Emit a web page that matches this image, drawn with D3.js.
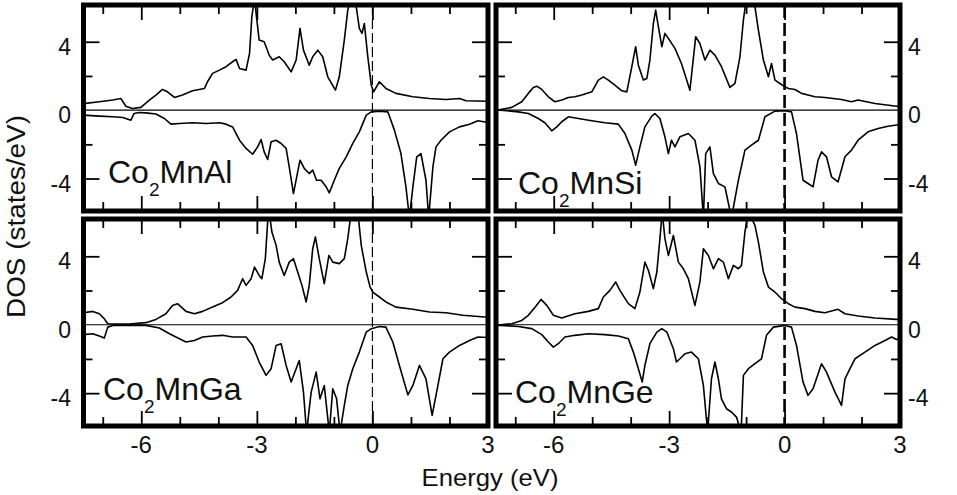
<!DOCTYPE html>
<html><head><meta charset="utf-8">
<script src="https://cdn.jsdelivr.net/npm/d3@7"></script>
<style>body{margin:0;background:#fff}svg{display:block}</style>
</head><body><svg id="c" width="957" height="495"></svg>
<script>
// ---- data: [energy (eV), DOS (states/eV)] ----
const alUp=[[-7.5,0.38],[-7.09,0.49],[-6.74,0.59],[-6.53,0.68],[-6.40,0.23],[-6.23,0.10],[-6.01,0.16],[-5.79,0.59],[-5.62,0.88],[-5.45,1.21],[-5.32,1.07],[-5.14,0.74],[-4.93,0.88],[-4.67,1.13],[-4.36,1.27],[-4.28,1.66],[-4.15,2.15],[-3.97,2.34],[-3.80,2.54],[-3.63,2.83],[-3.54,2.97],[-3.45,2.44],[-3.28,2.34],[-3.19,3.32],[-3.13,5.46],[-3.06,6.6],[-3.02,5.66],[-2.94,4.10],[-2.81,4.00],[-2.68,3.22],[-2.59,2.93],[-2.42,3.12],[-2.29,2.83],[-2.11,2.24],[-1.98,2.93],[-1.88,4.78],[-1.79,3.51],[-1.64,2.63],[-1.55,3.12],[-1.42,3.51],[-1.29,3.12],[-1.16,1.95],[-0.96,1.17],[-0.86,1.95],[-0.73,4.10],[-0.64,5.85],[-0.55,6.6],[-0.42,6.05],[-0.34,4.78],[-0.27,4.49],[-0.21,5.07],[-0.12,3.12],[-0.03,1.46],[0.03,1.07],[0.18,1.66],[0.35,1.27],[0.61,0.98],[1.05,0.78],[1.48,0.68],[1.91,0.62],[2.26,0.68],[2.43,0.55],[3.0,0.52]];
const alDn=[[-7.5,-0.29],[-7.09,-0.35],[-6.74,-0.39],[-6.48,-0.43],[-6.27,-0.59],[-6.19,-0.20],[-6.05,-0.14],[-5.88,-0.16],[-5.62,-0.23],[-5.40,-0.49],[-5.23,-0.82],[-5.01,-0.78],[-4.67,-0.74],[-4.32,-0.78],[-3.97,-0.74],[-3.80,-0.82],[-3.63,-0.98],[-3.45,-1.76],[-3.28,-2.24],[-3.11,-2.58],[-2.98,-2.15],[-2.89,-1.72],[-2.81,-2.44],[-2.72,-2.89],[-2.63,-1.85],[-2.50,-1.76],[-2.37,-1.95],[-2.24,-2.24],[-2.16,-3.32],[-2.05,-4.88],[-1.94,-3.61],[-1.88,-2.93],[-1.77,-3.41],[-1.64,-3.71],[-1.55,-3.51],[-1.45,-4.10],[-1.33,-4.10],[-1.20,-4.49],[-1.12,-4.84],[-0.99,-4.10],[-0.86,-3.41],[-0.68,-2.73],[-0.51,-1.95],[-0.34,-1.27],[-0.16,-0.29],[-0.03,-0.10],[0.18,-0.06],[0.40,-0.10],[0.57,-1.17],[0.74,-2.54],[0.87,-4.49],[0.96,-6.3],[1.05,-4.49],[1.15,-2.73],[1.26,-2.54],[1.39,-4.10],[1.46,-6.3],[1.57,-3.32],[1.65,-2.15],[1.78,-1.76],[2.00,-1.27],[2.26,-0.98],[2.52,-0.82],[2.74,-0.62],[3.0,-0.72]];
const siUp=[[-7.5,0.02],[-7.39,0.04],[-7.09,0.16],[-6.83,0.49],[-6.66,0.98],[-6.53,1.33],[-6.44,1.40],[-6.31,1.21],[-6.14,0.78],[-5.97,0.49],[-5.79,0.59],[-5.62,0.74],[-5.45,0.78],[-5.27,0.88],[-5.01,1.07],[-4.84,1.76],[-4.71,1.95],[-4.58,1.76],[-4.41,1.46],[-4.23,1.13],[-4.10,1.07],[-3.97,2.54],[-3.87,3.71],[-3.80,2.63],[-3.67,1.76],[-3.58,1.85],[-3.50,2.93],[-3.41,5.07],[-3.35,5.85],[-3.28,4.88],[-3.19,3.71],[-3.11,4.49],[-3.02,4.20],[-2.85,3.61],[-2.68,2.73],[-2.46,1.17],[-2.31,4.29],[-2.20,3.90],[-2.07,2.93],[-1.94,3.51],[-1.81,3.22],[-1.64,2.54],[-1.42,1.33],[-1.29,1.56],[-1.16,3.12],[-1.07,5.27],[-0.99,6.6],[-0.77,6.05],[-0.68,4.68],[-0.55,2.93],[-0.42,1.95],[-0.34,2.73],[-0.25,1.76],[-0.12,1.56],[0.01,1.37],[0.10,1.27],[0.27,1.21],[0.44,0.98],[0.61,0.88],[0.79,0.78],[1.05,0.74],[1.48,0.62],[1.74,0.49],[1.91,0.59],[2.35,0.39],[2.91,0.23],[3.0,0.22]];
const siDn=[[-7.5,0],[-7.39,0],[-6.92,-0.10],[-6.66,-0.20],[-6.40,-0.49],[-6.23,-0.74],[-6.05,-1.21],[-5.92,-0.98],[-5.79,-0.68],[-5.62,-0.39],[-5.36,-0.49],[-5.01,-0.62],[-4.67,-0.74],[-4.32,-0.82],[-4.15,-1.37],[-3.97,-2.34],[-3.87,-3.22],[-3.76,-2.15],[-3.63,-0.98],[-3.45,-0.35],[-3.37,-0.20],[-3.24,-0.49],[-3.11,-1.56],[-3.02,-2.54],[-2.94,-1.76],[-2.85,-2.15],[-2.72,-1.56],[-2.50,-1.37],[-2.33,-1.76],[-2.20,-3.32],[-2.11,-6.3],[-2.05,-2.54],[-1.94,-2.15],[-1.85,-3.71],[-1.72,-4.29],[-1.55,-4.49],[-1.38,-6.3],[-1.20,-4.10],[-1.03,-2.34],[-0.86,-2.05],[-0.68,-1.76],[-0.51,-0.39],[-0.25,-0.06],[0.01,-0.04],[0.18,-0.10],[0.31,-1.37],[0.48,-4.10],[0.61,-4.29],[0.74,-4.49],[0.87,-2.93],[0.96,-2.44],[1.09,-2.73],[1.22,-3.90],[1.39,-4.20],[1.57,-2.73],[1.74,-2.34],[1.91,-1.76],[2.17,-1.27],[2.43,-1.07],[2.69,-0.94],[3.0,-0.84]];
const gaUp=[[-7.5,0.70],[-7.26,0.78],[-7.09,0.64],[-6.96,0.35],[-6.87,0.06],[-6.74,0.04],[-6.31,0.04],[-5.88,0.12],[-5.62,0.31],[-5.36,0.64],[-5.19,1.13],[-5.06,1.23],[-4.84,0.78],[-4.62,0.64],[-4.41,0.78],[-4.15,1.03],[-3.89,1.29],[-3.67,1.62],[-3.50,2.01],[-3.37,2.69],[-3.28,2.30],[-3.15,2.69],[-3.06,3.37],[-2.94,2.88],[-2.87,2.69],[-2.78,3.86],[-2.72,6.0],[-2.68,6.6],[-2.61,5.42],[-2.50,4.64],[-2.42,3.66],[-2.29,2.88],[-2.16,3.66],[-2.05,3.86],[-1.94,3.08],[-1.83,2.30],[-1.72,1.33],[-1.64,2.30],[-1.55,4.44],[-1.48,5.13],[-1.38,3.86],[-1.25,2.40],[-1.13,4.05],[-1.03,3.66],[-0.86,3.57],[-0.73,3.86],[-0.64,5.03],[-0.55,6.6],[-0.38,6.6],[-0.29,4.64],[-0.16,3.08],[-0.06,2.20],[0.01,1.91],[0.18,1.62],[0.35,1.33],[0.61,1.03],[1.05,0.90],[1.48,0.74],[1.91,0.70],[2.35,0.55],[2.91,0.45],[3.0,0.45]];
const gaDn=[[-7.5,-0.58],[-7.26,-0.53],[-7.09,-0.66],[-6.96,-0.78],[-6.87,-0.14],[-6.74,-0.04],[-5.88,-0.04],[-5.53,-0.19],[-5.27,-0.53],[-5.01,-0.82],[-4.84,-1.01],[-4.62,-0.92],[-4.41,-0.72],[-4.15,-0.66],[-3.89,-0.62],[-3.63,-0.72],[-3.28,-0.72],[-3.11,-1.21],[-2.94,-2.18],[-2.76,-2.96],[-2.63,-2.57],[-2.50,-1.21],[-2.37,-1.11],[-2.24,-2.38],[-2.11,-3.35],[-1.98,-2.57],[-1.90,-2.09],[-1.79,-3.94],[-1.71,-6.3],[-1.59,-3.94],[-1.46,-2.77],[-1.36,-4.33],[-1.25,-3.55],[-1.12,-6.3],[-1.03,-3.74],[-0.93,-4.33],[-0.84,-6.3],[-0.73,-4.72],[-0.64,-3.55],[-0.51,-2.57],[-0.34,-1.60],[-0.16,-0.43],[-0.03,-0.23],[0.18,-0.10],[0.35,-0.14],[0.53,-1.01],[0.70,-2.38],[0.92,-4.10],[1.05,-3.55],[1.22,-2.38],[1.39,-3.16],[1.55,-5.3],[1.70,-3.55],[1.83,-1.99],[2.00,-1.60],[2.26,-1.21],[2.52,-0.92],[2.74,-0.72],[3.0,-0.75]];
const geUp=[[-7.5,0],[-7.39,0],[-7.09,0.06],[-6.83,0.25],[-6.66,0.55],[-6.48,1.03],[-6.33,1.48],[-6.18,1.13],[-6.01,0.55],[-5.79,0.39],[-5.45,0.64],[-5.10,0.78],[-4.84,0.94],[-4.71,1.62],[-4.54,2.01],[-4.39,2.50],[-4.28,2.01],[-4.06,1.23],[-3.89,0.94],[-3.76,1.91],[-3.63,3.66],[-3.54,3.18],[-3.41,2.11],[-3.32,3.08],[-3.24,5.03],[-3.18,6.6],[-3.11,5.03],[-3.02,4.05],[-2.89,5.22],[-2.76,3.66],[-2.63,3.27],[-2.50,2.69],[-2.33,1.13],[-2.20,2.50],[-2.11,4.44],[-1.98,4.05],[-1.85,3.27],[-1.72,3.86],[-1.59,3.66],[-1.46,2.69],[-1.33,3.47],[-1.20,3.27],[-1.12,3.47],[-1.03,5.42],[-0.94,6.6],[-0.77,5.81],[-0.68,4.83],[-0.55,3.08],[-0.42,2.20],[-0.25,1.91],[-0.08,1.52],[0.10,1.23],[0.27,1.03],[0.53,0.94],[0.79,0.78],[1.05,0.70],[1.39,0.90],[1.57,0.64],[1.91,0.51],[2.35,0.39],[2.91,0.31],[3.0,0.30]];
const geDn=[[-7.5,-0.03],[-7.39,-0.04],[-6.92,-0.10],[-6.57,-0.23],[-6.31,-0.58],[-6.14,-1.01],[-6.01,-1.31],[-5.88,-1.11],[-5.71,-0.72],[-5.45,-0.62],[-5.10,-0.53],[-4.67,-0.58],[-4.32,-0.66],[-4.06,-0.82],[-3.93,-1.60],[-3.80,-2.57],[-3.70,-3.35],[-3.63,-2.38],[-3.50,-1.11],[-3.32,-0.43],[-3.19,-0.23],[-3.06,-0.43],[-2.89,-1.40],[-2.81,-2.18],[-2.72,-1.99],[-2.59,-1.70],[-2.42,-1.60],[-2.24,-1.99],[-2.11,-3.55],[-2.00,-6.3],[-1.90,-3.16],[-1.81,-2.18],[-1.72,-3.16],[-1.64,-4.33],[-1.51,-4.91],[-1.38,-5.10],[-1.25,-5.40],[-1.13,-6.3],[-1.07,-2.96],[-0.94,-2.57],[-0.77,-2.28],[-0.60,-1.99],[-0.47,-0.62],[-0.29,-0.14],[0.01,-0.04],[0.18,-0.14],[0.31,-1.21],[0.48,-3.35],[0.61,-4.13],[0.74,-3.74],[0.96,-2.28],[1.09,-2.77],[1.31,-3.94],[1.48,-4.72],[1.57,-3.16],[1.70,-2.57],[1.83,-1.99],[2.09,-1.60],[2.35,-1.21],[2.61,-0.92],[2.78,-0.72],[2.91,-0.86],[3.0,-0.80]];

const energyDomain=[-7.5,3];
const energyLabels=[-6,-3,0,3];
const energyMajor=[-6,-3,0];
const energyMinor=[-7,-5,-4,-2,-1,1,2];
const dosLabels=[4,0,-4];
const dosMajor=[4,-4];
const dosMinor=[2,-2];
const materials=["Al","Si","Ga","Ge"];
const xTitle="Energy (eV)";
const yTitle="DOS (states/eV)";

// ---- layout ----
const FONT="'Liberation Sans', Arial, Helvetica, sans-serif";
const svg=d3.select("#c");
svg.append("rect").attr("width",957).attr("height",495).attr("fill","#fff");
const cols=[[83.5,488],[496,900]];
const rows=[{range:[211,5],domain:[-5.9,6.15]},{range:[426,219],domain:[-5.92,6.18]}];
const series={Al:[alUp,alDn],Si:[siUp,siDn],Ga:[gaUp,gaDn],Ge:[geUp,geDn]};
const layout=[
  {c:0,r:0,lx:108,ly:183,thick:false},
  {c:1,r:0,lx:518,ly:194,thick:true},
  {c:0,r:1,lx:103,ly:400,thick:false},
  {c:1,r:1,lx:515,ly:403,thick:true}];

materials.forEach((m,i)=>{
  const L=layout[i];
  const x=d3.scaleLinear().domain(energyDomain).range(cols[L.c]);
  const y=d3.scaleLinear().domain(rows[L.r].domain).range(rows[L.r].range);
  const [x0,x1]=cols[L.c], yb=rows[L.r].range[0], yt=rows[L.r].range[1];
  const g=svg.append("g");
  const cid="clip"+i;
  g.append("clipPath").attr("id",cid).append("rect")
    .attr("x",x0).attr("y",yt).attr("width",x1-x0).attr("height",yb-yt);
  const inner=g.append("g").attr("clip-path",`url(#${cid})`);
  inner.append("line").attr("x1",x0).attr("x2",x1).attr("y1",y(0)).attr("y2",y(0))
    .attr("stroke","#000").attr("stroke-width",1.1);
  inner.append("line").attr("x1",x(0)).attr("x2",x(0)).attr("y1",yt).attr("y2",yb)
    .attr("stroke","#000")
    .attr("stroke-width",L.thick?2.6:1.2)
    .attr("stroke-dasharray",L.thick?"13,5":"10,4");
  const line=d3.line().x(d=>x(d[0])).y(d=>y(d[1]));
  series[m].forEach(s=>{
    inner.append("path").datum(s).attr("d",line).attr("fill","none")
      .attr("stroke","#000").attr("stroke-width",1.6).attr("stroke-linejoin","round");
  });
  // ticks (inward) via d3 axes
  const tick=(axis,tx,ty,vals,size)=>{
    const a=g.append("g").attr("transform",`translate(${tx},${ty})`)
      .call(axis.tickValues(vals).tickSize(size).tickFormat(""));
    a.select(".domain").remove();
    a.selectAll("line").attr("stroke","#000").attr("stroke-width",1.8);
  };
  tick(d3.axisBottom(x),0,yt,energyMinor,9);
  tick(d3.axisBottom(x),0,yt,energyMajor,15);
  tick(d3.axisTop(x),0,yb,energyMinor,9);
  tick(d3.axisTop(x),0,yb,energyMajor,15);
  tick(d3.axisRight(y),x0,0,dosMajor,16);
  tick(d3.axisRight(y),x0,0,dosMinor,9);
  tick(d3.axisLeft(y),x1,0,dosMajor,16);
  tick(d3.axisLeft(y),x1,0,dosMinor,9);
  // frame
  g.append("rect").attr("x",x0).attr("y",yt).attr("width",x1-x0).attr("height",yb-yt)
    .attr("fill","none").attr("stroke","#000").attr("stroke-width",5);
  // material label
  const t=g.append("text").attr("x",L.lx).attr("y",L.ly)
    .attr("font-family",FONT).attr("font-size",32).attr("fill","#111");
  t.append("tspan").text("Co");
  t.append("tspan").attr("font-size",19).attr("dy",13).text("2");
  t.append("tspan").attr("dy",-13).text("Mn"+m);
  // y tick labels
  dosLabels.forEach(v=>{
    g.append("text").attr("x",L.c===0?71:908).attr("y",y(v)+13)
      .attr("text-anchor",L.c===0?"end":"start")
      .attr("font-family",FONT).attr("font-size",23).attr("fill","#111")
      .text(v);
  });
  // x tick labels on bottom row
  if(L.r===1){
    energyLabels.forEach(v=>{
      g.append("text").attr("x",x(v)).attr("y",453).attr("text-anchor","middle")
        .attr("font-family",FONT).attr("font-size",24).attr("fill","#111").text(v);
    });
  }
});

svg.append("text").attr("x",490).attr("y",486).attr("text-anchor","middle")
  .attr("font-family",FONT).attr("font-size",24).attr("fill","#111")
  .attr("textLength",137).attr("lengthAdjust","spacingAndGlyphs").text(xTitle);
svg.append("text").attr("transform","translate(25,216.5) rotate(-90)")
  .attr("text-anchor","middle")
  .attr("font-family",FONT).attr("font-size",25).attr("fill","#111")
  .attr("textLength",203).attr("lengthAdjust","spacingAndGlyphs").text(yTitle);
</script></body></html>
